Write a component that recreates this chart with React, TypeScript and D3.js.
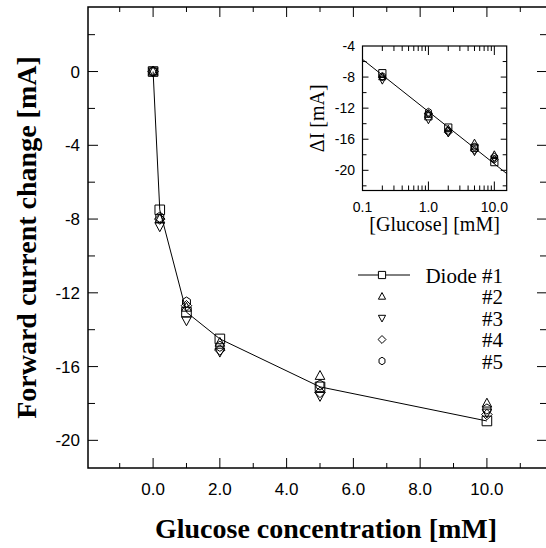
import React, { useRef, useEffect } from 'react';
import * as d3 from 'd3';

// glucose concentrations [mM]
const glucose = [0, 0.2, 1, 2, 5, 10];

// forward current change [mA] for each diode
const diode1 = [0, -7.5, -13.05, -14.5, -17.1, -18.95];
const diode2 = [0, -8.0, -12.8, -14.7, -16.5, -18.0];
const diode3 = [0, -8.4, -13.5, -15.2, -17.6, -18.5];
const diode4 = [0, -8.0, -12.7, -15.1, -17.4, -18.6];
const diode5 = [0, -7.9, -12.5, -14.9, -17.0, -18.3];

const seriesNames = ['Diode #1', '#2', '#3', '#4', '#5'];
const seriesShapes = ['square', 'triUp', 'triDown', 'diamond', 'hexagon'];

// tick labels
const xTickLabels = ['0.0', '2.0', '4.0', '6.0', '8.0', '10.0'];
const yTickLabels = ['0', '-4', '-8', '-12', '-16', '-20'];
const insetXTickLabels = ['0.1', '1.0', '10.0'];
const insetYTickLabels = ['-4', '-8', '-12', '-16', '-20'];

// log fit shown in the inset: dI = a + b * log10(c)
const fitIntercept = -12.44;
const fitSlope = -6.72;

const W = 546;
const H = 548;
const SANS = '"Liberation Sans", Arial, sans-serif';
const SERIF = '"Liberation Serif", "Times New Roman", serif';

// marker outline centred on 0,0, s = half size
const markerPath = (shape: string, s: number) => {
    if (shape === 'square') return `M${-s},${-s}H${s}V${s}H${-s}Z`;
    if (shape === 'triUp') return `M0,${-s * 1.1}L${s},${s * 0.75}L${-s},${s * 0.75}Z`;
    if (shape === 'triDown') return `M0,${s * 1.1}L${s},${-s * 0.75}L${-s},${-s * 0.75}Z`;
    if (shape === 'diamond') return `M0,${-s * 1.1}L${s * 1.1},0L0,${s * 1.1}L${-s * 1.1},0Z`;
    const pts = d3.range(6).map(k => {
        const a = -Math.PI / 2 + k * Math.PI / 3;
        return [s * 0.95 * Math.cos(a), s * 1.05 * Math.sin(a)];
    });
    return 'M' + pts.map(p => p.join(',')).join('L') + 'Z';
};

const App = () => {
    const svgRef = useRef(null);

    useEffect(() => {
        const svg = d3.select(svgRef.current);
        svg.selectAll('*').remove();

        const series = [diode1, diode2, diode3, diode4, diode5];

        // ---------- main plot ----------
        const left = 88, right = 547, top = 7, bottom = 468;
        const x = d3.scaleLinear().domain([-1.95, 11.8]).range([left, right]);
        const y = d3.scaleLinear().domain([-21.5, 3.5]).range([bottom, top]);

        const g = svg.append('g');

        // ticks on all four sides, pointing inward
        const xTicks = d3.range(-1, 12, 1);
        xTicks.forEach(v => {
            const major = v % 2 === 0;
            const len = major ? 10 : 5;
            g.append('line').attr('x1', x(v)).attr('x2', x(v)).attr('y1', bottom).attr('y2', bottom - len)
                .attr('stroke', '#000').attr('stroke-width', 1);
            g.append('line').attr('x1', x(v)).attr('x2', x(v)).attr('y1', top).attr('y2', top + len)
                .attr('stroke', '#000').attr('stroke-width', 1);
        });
        const yTicks = d3.range(-20, 3, 2);
        yTicks.forEach(v => {
            const major = v % 4 === 0;
            const len = major ? 10 : 7;
            g.append('line').attr('x1', left).attr('x2', left + len).attr('y1', y(v)).attr('y2', y(v))
                .attr('stroke', '#000').attr('stroke-width', 1);
            g.append('line').attr('x1', right).attr('x2', right - len).attr('y1', y(v)).attr('y2', y(v))
                .attr('stroke', '#000').attr('stroke-width', 1);
        });

        g.append('rect').attr('x', left).attr('y', top).attr('width', right - left).attr('height', bottom - top)
            .attr('fill', 'none').attr('stroke', '#000').attr('stroke-width', 1.5);

        // tick labels
        xTickLabels.forEach(t => {
            g.append('text').attr('x', x(+t)).attr('y', 495)
                .attr('text-anchor', 'middle').style('font', `17px ${SANS}`).text(t);
        });
        yTickLabels.forEach(t => {
            g.append('text').attr('x', 80).attr('y', y(+t)).attr('dy', '0.36em')
                .attr('text-anchor', 'end').style('font', `17px ${SANS}`).text(t);
        });

        // axis titles
        g.append('text').attr('x', 326).attr('y', 538).attr('text-anchor', 'middle')
            .style('font', `bold 28px ${SERIF}`).text('Glucose concentration [mM]');
        g.append('text').attr('transform', `translate(36,${(top + bottom) / 2}) rotate(-90)`)
            .attr('text-anchor', 'middle')
            .style('font', `bold 28px ${SERIF}`).text('Forward current change [mA]');

        // line through diode #1
        const line = d3.line().x((d, i) => x(glucose[i])).y(d => y(d));
        g.append('path').attr('d', line(diode1)).attr('fill', 'none').attr('stroke', '#000').attr('stroke-width', 1);

        series.forEach((vals, si) => {
            vals.forEach((v, i) => {
                g.append('path').attr('d', markerPath(seriesShapes[si], 4.8))
                    .attr('transform', `translate(${x(glucose[i])},${y(v)})`)
                    .attr('fill', 'none').attr('stroke', '#000').attr('stroke-width', 1);
            });
        });

        // legend
        const legX = 382, legY = 275, legStep = 21.5;
        const leg = svg.append('g');
        leg.append('line').attr('x1', 358).attr('x2', 410).attr('y1', legY).attr('y2', legY)
            .attr('stroke', '#000').attr('stroke-width', 1);
        seriesNames.forEach((name, si) => {
            const cy = legY + si * legStep;
            leg.append('path').attr('d', markerPath(seriesShapes[si], 3.6))
                .attr('transform', `translate(${legX},${cy})`)
                .attr('fill', si === 0 ? '#fff' : 'none').attr('stroke', '#000').attr('stroke-width', 1);
            leg.append('text').attr('x', 503).attr('y', cy + 7.5).attr('text-anchor', 'end')
                .style('font', `21px ${SERIF}`).text(name);
        });

        // ---------- inset ----------
        const iL = 362.5, iR = 506.7, iT = 46, iB = 190.5;
        const ix = d3.scaleLog().domain([0.1, 15.4]).range([iL, iR]);
        const iy = d3.scaleLinear().domain([-22.6, -4]).range([iB, iT]);
        const ins = svg.append('g');
        ins.append('rect').attr('x', iL).attr('y', iT).attr('width', iR - iL).attr('height', iB - iT)
            .attr('fill', '#fff');

        const logTicks = ix.ticks().filter(v => v > 0.1 && v < 15.4);
        logTicks.forEach(v => {
            const major = Math.abs(Math.log10(v) - Math.round(Math.log10(v))) < 1e-6;
            const len = major ? 9 : 5;
            ins.append('line').attr('x1', ix(v)).attr('x2', ix(v)).attr('y1', iB).attr('y2', iB - len)
                .attr('stroke', '#000').attr('stroke-width', 1);
            ins.append('line').attr('x1', ix(v)).attr('x2', ix(v)).attr('y1', iT).attr('y2', iT + len)
                .attr('stroke', '#000').attr('stroke-width', 1);
        });
        d3.range(-22, -4, 2).forEach(v => {
            const len = v % 4 === 0 ? 6 : 4;
            ins.append('line').attr('x1', iL).attr('x2', iL + len).attr('y1', iy(v)).attr('y2', iy(v))
                .attr('stroke', '#000').attr('stroke-width', 1);
            ins.append('line').attr('x1', iR).attr('x2', iR - len).attr('y1', iy(v)).attr('y2', iy(v))
                .attr('stroke', '#000').attr('stroke-width', 1);
        });

        ins.append('rect').attr('x', iL).attr('y', iT).attr('width', iR - iL).attr('height', iB - iT)
            .attr('fill', 'none').attr('stroke', '#000').attr('stroke-width', 1.2);

        insetXTickLabels.forEach(t => {
            ins.append('text').attr('x', ix(+t)).attr('y', 211.5).attr('text-anchor', 'middle')
                .style('font', `14px ${SANS}`).text(t);
        });
        insetYTickLabels.forEach(t => {
            ins.append('text').attr('x', 355).attr('y', iy(+t)).attr('dy', '0.36em').attr('text-anchor', 'end')
                .style('font', `14px ${SANS}`).text(t);
        });
        ins.append('text').attr('x', (iL + iR) / 2).attr('y', 231).attr('text-anchor', 'middle')
            .style('font', `20px ${SERIF}`).text('[Glucose] [mM]');
        ins.append('text').attr('transform', `translate(324,${(iT + iB) / 2}) rotate(-90)`)
            .attr('text-anchor', 'middle')
            .style('font', `20px ${SERIF}`).text('\u0394I [mA]');

        // fit line
        const fitX = ix.domain();
        const fit = d3.line().x(d => ix(d)).y(d => iy(fitIntercept + fitSlope * Math.log10(d)));
        ins.append('path').attr('d', fit(fitX)).attr('fill', 'none').attr('stroke', '#000').attr('stroke-width', 1);

        series.forEach((vals, si) => {
            vals.forEach((v, i) => {
                if (glucose[i] <= 0) return;
                ins.append('path').attr('d', markerPath(seriesShapes[si], 3.6))
                    .attr('transform', `translate(${ix(glucose[i])},${iy(v)})`)
                    .attr('fill', 'none').attr('stroke', '#000').attr('stroke-width', 1);
            });
        });
    }, []);

    return (
        <svg
            ref={svgRef}
            width={W}
            height={H}
            style={{ position: 'absolute', left: 0, top: 0, background: '#fff' }}
        />
    );
};

export default App;
